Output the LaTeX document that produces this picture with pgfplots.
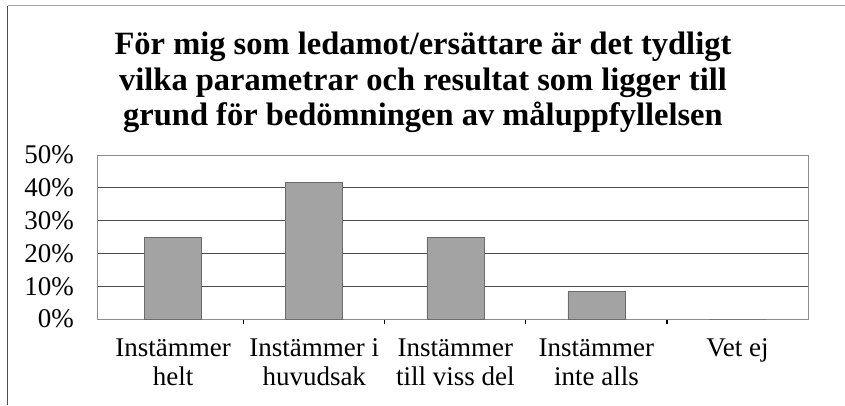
\documentclass[border=0pt]{standalone}
\usepackage{fontspec}
\setmainfont{Liberation Serif}
\usepackage{pgfplots}
\pgfplotsset{compat=1.18}
\begin{document}
\begin{tikzpicture}
\useasboundingbox (-97pt,-86pt) rectangle (748pt,319pt);
\draw[black!70, line width=1pt] (-89pt,-86pt) -- (-89pt,313pt);
\draw[black!35, line width=1pt] (-89pt,313pt) -- (748pt,313pt);
\node[anchor=base, inner sep=0pt, font=\bfseries\fontsize{32.5}{36}\selectfont] at (326pt,264pt) {För mig som ledamot/ersättare är det tydligt};
\node[anchor=base, inner sep=0pt, font=\bfseries\fontsize{32.5}{36}\selectfont] at (326pt,229pt) {vilka parametrar och resultat som ligger till};
\node[anchor=base, inner sep=0pt, font=\bfseries\fontsize{32.5}{36}\selectfont] at (326pt,194pt) {grund för bedömningen av måluppfyllelsen};
\begin{axis}[
  at={(0pt,0pt)}, anchor=south west,
  scale only axis, width=711pt, height=164pt,
  xmin=-0.54, xmax=4.5, ymin=0, ymax=50,
  ybar, bar width=57pt,
  xtick={0,1,2,3,4},
  xticklabels={Instämmer\\helt, Instämmer i\\huvudsak, Instämmer\\till viss del, Instämmer\\inte alls, Vet ej\\\strut},
  minor xtick={0.5,1.5,2.5,3.5},
  major tick length=0pt, minor tick length=5pt,
  xtick pos=bottom, ytick pos=left,
  ytick={0,10,20,30,40,50},
  yticklabels={0\%,10\%,20\%,30\%,40\%,50\%},
  ymajorgrids, grid style={black!70, line width=0.8pt},
  axis line style={black!45, line width=0.8pt},
  minor tick style={black, line width=1.2pt},
  x tick label style={font=\fontsize{27}{28.5}\selectfont, align=center, anchor=base, inner sep=0pt, yshift=-66pt},
  y tick label style={font=\fontsize{27}{29}\selectfont, anchor=east, inner sep=0pt, xshift=-23pt},
]
\addplot[fill=black!36, draw=black!58, line width=0.6pt] coordinates {(0,25) (1,41.67) (2,25) (3,8.33) (4,0)};
\end{axis}
\end{tikzpicture}
\end{document}
